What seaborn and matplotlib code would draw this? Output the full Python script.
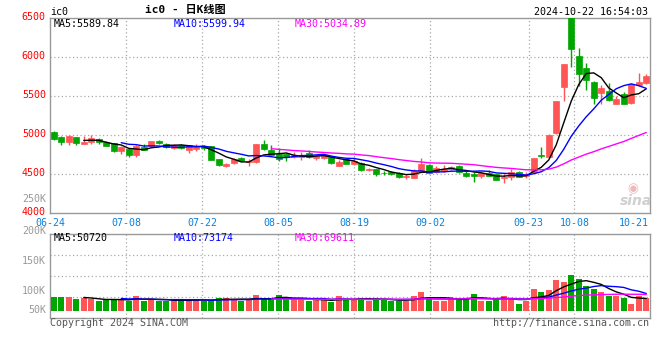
import numpy as np
import pandas as pd
import matplotlib
matplotlib.use("Agg")
import matplotlib.pyplot as plt
import matplotlib.transforms as mtransforms
import seaborn as sns

# trading days 2024-06-24 .. 2024-10-22 (mid-autumn + national day closed)
days = pd.bdate_range("2024-06-24", "2024-10-22")
holidays = pd.to_datetime(["2024-09-16", "2024-09-17", "2024-10-01", "2024-10-02",
                           "2024-10-03", "2024-10-04", "2024-10-07"])
days = days[~days.isin(holidays)]

open_ = [5043, 4979, 4910, 4974, 4889, 4910, 4957, 4915, 4897, 4799,
         4825, 4748, 4850, 4859, 4923, 4893, 4833, 4872, 4816, 4825,
         4863, 4859, 4692, 4611, 4645, 4714, 4654, 4658, 4885, 4808,
         4765, 4765, 4718, 4727, 4774, 4710, 4714, 4722, 4607, 4692,
         4637, 4645, 4556, 4565, 4522, 4530, 4517, 4466, 4457, 4539,
         4616, 4530, 4539, 4565, 4607, 4522, 4504, 4479, 4517, 4500,
         4449, 4470, 4534, 4474, 4534, 4748, 4727, 5034, 5624, 6580,
         6017, 5863, 5688, 5547, 5568, 5402, 5526, 5410, 5645, 5667]
high = [5051, 4987, 5000, 4979, 4991, 5000, 4966, 4927, 4906, 4859,
        4833, 4876, 4885, 4932, 4940, 4897, 4893, 4893, 4880, 4885,
        4876, 4868, 4697, 4650, 4710, 4722, 4692, 4885, 4936, 4872,
        4842, 4778, 4786, 4786, 4808, 4752, 4765, 4735, 4688, 4701,
        4722, 4658, 4581, 4573, 4543, 4543, 4526, 4509, 4573, 4705,
        4637, 4607, 4616, 4611, 4620, 4539, 4530, 4530, 4560, 4509,
        4500, 4564, 4543, 4534, 4714, 4846, 5013, 5440, 5915, 6650,
        6115, 5932, 5697, 5645, 5667, 5509, 5560, 5667, 5795, 5786]
low = [4936, 4876, 4876, 4876, 4885, 4885, 4889, 4859, 4786, 4761,
       4722, 4722, 4808, 4850, 4889, 4842, 4825, 4825, 4774, 4799,
       4808, 4680, 4607, 4590, 4633, 4658, 4607, 4645, 4808, 4744,
       4671, 4667, 4710, 4684, 4710, 4684, 4697, 4637, 4603, 4628,
       4624, 4543, 4539, 4479, 4496, 4496, 4457, 4445, 4453, 4530,
       4513, 4517, 4530, 4552, 4522, 4470, 4397, 4453, 4474, 4423,
       4385, 4428, 4462, 4449, 4526, 4714, 4714, 5021, 5445, 5880,
       5633, 5581, 5402, 5406, 5440, 5398, 5406, 5406, 5633, 5658]
close = [4949, 4915, 4991, 4902, 4915, 4962, 4910, 4863, 4795, 4850,
         4744, 4868, 4816, 4923, 4897, 4850, 4880, 4833, 4872, 4850,
         4833, 4684, 4620, 4628, 4701, 4667, 4667, 4885, 4821, 4752,
         4692, 4718, 4744, 4752, 4722, 4735, 4748, 4650, 4658, 4637,
         4667, 4552, 4565, 4509, 4513, 4509, 4466, 4483, 4539, 4628,
         4522, 4577, 4565, 4594, 4530, 4479, 4483, 4513, 4483, 4432,
         4470, 4534, 4470, 4500, 4714, 4731, 5004, 5440, 5915, 6103,
         5791, 5709, 5483, 5607, 5449, 5466, 5406, 5658, 5688, 5761]
volume = [58800, 58800, 58800, 49200, 51900, 47800, 42400, 45100, 49200, 49200,
          42400, 61500, 42400, 49200, 42400, 39600, 45100, 45100, 45100, 49200,
          39600, 45100, 53300, 53300, 49200, 42400, 45100, 65600, 49200, 49200,
          65600, 49200, 49200, 49200, 42400, 45100, 45100, 36900, 61500, 47600,
          47800, 54700, 41000, 51900, 47800, 41000, 41000, 41000, 60100, 77900,
          51900, 41000, 41000, 51900, 51900, 51900, 68300, 41000, 41000, 51900,
          60100, 54700, 27300, 41000, 88800, 76500, 84700, 125700, 118900, 146200,
          129800, 101100, 91600, 76500, 61500, 61500, 53300, 27300, 61500, 53300]

label_dates = ["06-24", "07-08", "07-22", "08-05", "08-19", "09-02", "09-23", "10-08", "10-21"]

df = pd.DataFrame({"date": days, "open": open_, "high": high, "low": low,
                   "close": close, "volume": volume})
df["i"] = np.arange(len(df))
df["label"] = df["date"].dt.strftime("%m-%d")
for n in (5, 10, 30):
    df[f"ma{n}"] = df["close"].rolling(n).mean()
    df[f"vma{n}"] = df["volume"].rolling(n).mean()

RED = "#ff5555"
GREEN = "#00a600"
GRID = "#aaaaaa"
MONO = ["DejaVu Sans Mono", "Noto Sans CJK SC"]

sns.set_style("white")
plt.rcParams["font.family"] = MONO

W, H = 660, 360
fig = plt.figure(figsize=(6.6, 3.6), dpi=100)
ax = fig.add_axes([50 / W, (H - 213.3) / H, 600 / W, 195 / H])
axv = fig.add_axes([50 / W, (H - 318.3) / H, 600 / W, 84.3 / H])

up = df["close"] >= df["open"]
colors = np.where(up, RED, GREEN)

# candles
ax.vlines(df["i"], df["low"], df["high"], colors=colors, lw=1, zorder=3)
ax.bar(df["i"], (df["close"] - df["open"]).abs(),
       bottom=df[["open", "close"]].min(axis=1),
       width=0.8, color=colors, edgecolor=colors, lw=0.5, zorder=3)

for col, c in (("ma5", "black"), ("ma10", "#0000ff"), ("ma30", "#ff00ff")):
    sns.lineplot(data=df, x="i", y=col, ax=ax, color=c, lw=1, legend=False, zorder=4)

# volume
axv.bar(df["i"], df["volume"], width=0.8, color=colors, lw=0, zorder=3)
for col, c in (("vma5", "black"), ("vma10", "#0000ff"), ("vma30", "#ff00ff")):
    sns.lineplot(data=df, x="i", y=col, ax=axv, color=c, lw=1, legend=False, zorder=4)

ax.set_xlim(-0.5, 79.5)
axv.set_xlim(-0.5, 79.5)
ax.set_ylim(4000, 6500)
px = 4100
axv.set_ylim(-7.3 * px, 77 * px)

# grid
tick_idx = [int(df.index[df["label"] == d][0]) for d in label_dates]
for t in tick_idx[1:-1]:
    gx = t * 7.6 / 7.5 - 0.5
    for a in (ax, axv):
        a.axvline(gx, color=GRID, ls=(0, (1, 2)), lw=0.9, zorder=1)
for p in (4500, 5000, 5500, 6000):
    ax.axhline(p, color=GRID, ls=(0, (1, 2)), lw=0.9, zorder=1)
y0, y1 = axv.get_ylim()
for k in (1, 2, 3):
    axv.axhline(y0 + k * (y1 - y0) / 4, color=GRID, ls=(0, (1, 2)), lw=0.9, zorder=1)

for a in (ax, axv):
    a.set_xlabel("")
    a.set_ylabel("")
    a.set_xticks([])
    for s in a.spines.values():
        s.set_color("#999999")
        s.set_linewidth(1)

ax.set_yticks([4000, 4500, 5000, 5500, 6000, 6500])
ax.set_yticklabels(["4000", "4500", "5000", "5500", "6000", "6500"])
ax.tick_params(axis="y", length=0, pad=3, labelcolor="#ff0000", labelsize=7.2)
# sina draws the price labels a couple of pixels above the grid
lift = mtransforms.ScaledTranslation(0, 2.2 / 100, fig.dpi_scale_trans)
for lab in ax.get_yticklabels():
    lab.set_transform(lab.get_transform() + lift)
axv.set_yticks([])

# date labels between panels
trans = ax.get_xaxis_transform()
for t, lab in zip(tick_idx, label_dates):
    gx = t * 7.6 / 7.5 - 0.5
    if t == tick_idx[-1]:
        ax.text(79.3, -9.2 / 195, lab, transform=trans, ha="right", va="center",
                color="#0a80dc", fontsize=7.2)
    else:
        ax.text(gx, -9.2 / 195, lab, transform=trans, ha="center", va="center",
                color="#0a80dc", fontsize=7.2)


def ftext(x, y, s, **kw):
    kw.setdefault("fontsize", 7.2)
    fig.text(x / W, 1 - y / H, s, va="center", **kw)


# headers
ftext(50, 12, "ic0", color="black")
ftext(185, 10, "ic0 - 日K线图", ha="center", color="black", fontweight="bold", fontsize=8)
ftext(648, 12, "2024-10-22 16:54:03", ha="right", color="black")
ftext(54, 24, "MA5:5589.84", color="black")
ftext(174, 24, "MA10:5599.94", color="#0000ff")
ftext(295, 24, "MA30:5034.89", color="#ff00ff")
ftext(54, 238, "MA5:50720", color="black")
ftext(174, 238, "MA10:73174", color="#0000ff")
ftext(295, 238, "MA30:69611", color="#ff00ff")

# volume axis labels
for y, s in ((199, "250K"), (231, "200K"), (261, "150K"), (291, "100K"), (310, "50K")):
    ftext(46, y, s, ha="right", color="#999999")

ftext(50, 323, "Copyright 2024 SINA.COM", color="#555555")
ftext(649, 323, "http://finance.sina.com.cn", ha="right", color="#555555")

# sina watermark
ftext(633, 189, "◉", ha="center", color="#f2b8b8", fontsize=9, family="DejaVu Sans")
ftext(636, 201, "sina", ha="center", color="#cfcfcf", fontsize=10,
      family="DejaVu Sans", fontstyle="italic", fontweight="bold")

fig.savefig("out.png", dpi=100)
